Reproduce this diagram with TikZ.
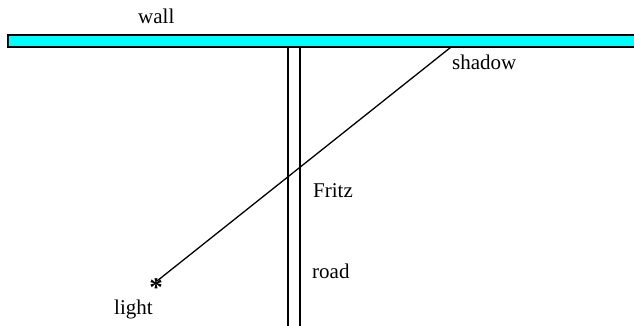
\documentclass[tikz,border=0pt]{standalone}
\usepackage{fontspec}
\setmainfont{Liberation Serif}
\definecolor{aqua}{RGB}{0,255,255}
\begin{document}
\begin{tikzpicture}[x=1pt,y=1pt,
  lbl/.style={font=\fontsize{21}{25}\selectfont, inner sep=0pt, anchor=base west},
  wallbox/.style={draw=black, fill=aqua, line width=1.4pt},
  roadline/.style={draw=black, line width=1.4pt},
  ray/.style={draw=black, line width=1.3pt}]
\useasboundingbox (0,0) rectangle (634,326);
% wall
\path[wallbox] (8,279) rectangle (640,291);
\coordinate (shadowpt) at (452,279.7);
% road
\coordinate (r1top) at (288,279.3);
\coordinate (r1bot) at (288,-2);
\coordinate (r2top) at (300,279.3);
\coordinate (r2bot) at (300,-2);
\draw[roadline] (r1top) -- (r1bot);
\draw[roadline] (r2top) -- (r2bot);
% light
\coordinate (lightpt) at (157,45);
\node[font=\bfseries\fontsize{27}{30}\selectfont, inner sep=0pt, anchor=base] (star) at (156,29) {*};
\draw[ray] (lightpt) -- (shadowpt);
% labels
\node[lbl] (wall) at (138,302) {wall};
\node[lbl] (shadow) at (452,256) {shadow};
\node[lbl] (fritz) at (313,128) {Fritz};
\node[lbl] (road) at (312,47) {road};
\node[lbl] (light) at (114,11) {light};
\end{tikzpicture}
\end{document}
